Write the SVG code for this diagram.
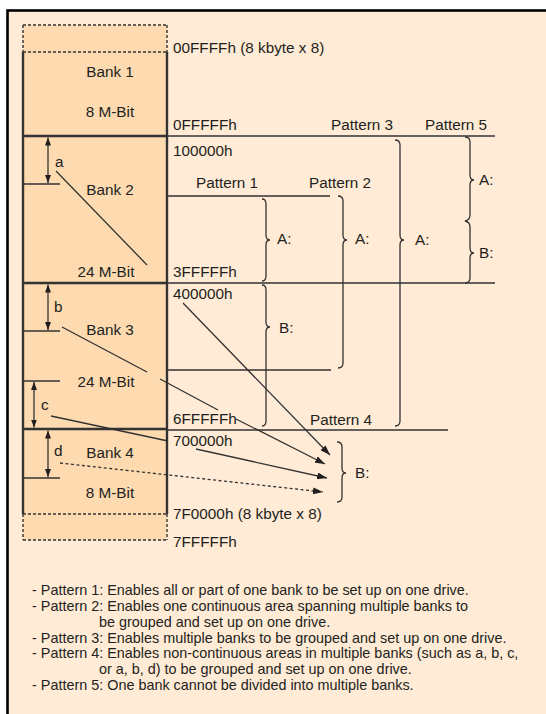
<svg xmlns="http://www.w3.org/2000/svg" width="546" height="714" viewBox="0 0 546 714">
<defs>
<style>
text{font-family:"Liberation Sans",Arial,Helvetica,sans-serif;fill:#231f20}
.lbl{font-size:15.3px}
.ctr{text-anchor:middle}
.note{font-size:14.4px}
.ln{stroke:#333;stroke-width:1.3;fill:none}
.thick{stroke:#333;stroke-width:2.4;fill:none}
.dash{stroke:#333;stroke-width:1.4;fill:none;stroke-dasharray:3 2}
.brace{stroke:#333;stroke-width:1.3;fill:none}
</style>
<marker id="ah" viewBox="0 0 10 7" refX="10" refY="3.5" markerWidth="10" markerHeight="7" markerUnits="userSpaceOnUse" orient="auto">
<path d="M0,0 L10,3.5 L0,7 Z" fill="#231f20"/>
</marker>
<marker id="sh" viewBox="0 0 8 6" refX="8" refY="3" markerWidth="8" markerHeight="6" markerUnits="userSpaceOnUse" orient="auto-start-reverse">
<path d="M0,0 L8,3 L0,6 Z" fill="#231f20"/>
</marker>
</defs>
<rect x="0" y="0" width="546" height="714" fill="#ffffff"/>
<rect x="7.5" y="10.5" width="560" height="720" fill="#ffebd6" stroke="#000" stroke-width="2.6"/>

<g id="banks">
<rect x="23" y="25" width="144" height="515" fill="#fddab0"/>
<path class="dash" d="M23,25 H167 M23,25 V52 M167,25 V52 M23,52 H167 M23,514 H167 M23,514 V540 M167,514 V540 M23,540 H167"/>
<path class="thick" d="M23,52 V514 M167,52 V514 M23,136 H167 M23,283 H167 M23,429 H167"/>
</g>

<g id="bank1">
<text class="lbl ctr" x="110" y="77">Bank 1</text>
<text class="lbl ctr" x="110" y="117">8 M-Bit</text>
</g>
<g id="bank2">
<text class="lbl ctr" x="110" y="195">Bank 2</text>
<text class="lbl ctr" x="106" y="277">24 M-Bit</text>
<text class="lbl" x="55" y="167">a</text>
</g>
<g id="bank3">
<text class="lbl ctr" x="110" y="335">Bank 3</text>
<text class="lbl ctr" x="106" y="387">24 M-Bit</text>
<text class="lbl" x="54" y="312">b</text>
<text class="lbl" x="41" y="410">c</text>
</g>
<g id="bank4">
<text class="lbl ctr" x="110" y="458">Bank 4</text>
<text class="lbl ctr" x="110" y="498">8 M-Bit</text>
<text class="lbl" x="54" y="456">d</text>
</g>

<g id="addresses">
<text class="lbl" x="173" y="53">00FFFFh (8 kbyte x 8)</text>
<text class="lbl" x="173" y="130">0FFFFFh</text>
<text class="lbl" x="173" y="156">100000h</text>
<text class="lbl" x="173" y="277">3FFFFFh</text>
<text class="lbl" x="173" y="299">400000h</text>
<text class="lbl" x="173" y="424">6FFFFFh</text>
<text class="lbl" x="173" y="446">700000h</text>
<text class="lbl" x="173" y="519">7F0000h (8 kbyte x 8)</text>
<text class="lbl" x="173" y="547">7FFFFFh</text>
</g>

<g id="patterns">
<text class="lbl ctr" x="227" y="188">Pattern 1</text>
<text class="lbl ctr" x="340" y="188">Pattern 2</text>
<text class="lbl ctr" x="362" y="130">Pattern 3</text>
<text class="lbl ctr" x="341" y="425">Pattern 4</text>
<text class="lbl ctr" x="456" y="130">Pattern 5</text>
<text class="lbl" x="277" y="244">A:</text>
<text class="lbl" x="279" y="333">B:</text>
<text class="lbl" x="355" y="244">A:</text>
<text class="lbl" x="415" y="245">A:</text>
<text class="lbl" x="479" y="185">A:</text>
<text class="lbl" x="479" y="258">B:</text>
<text class="lbl" x="355" y="478">B:</text>
</g>

<g id="connectors">
<path class="ln" d="M167,136 H495 M167,196 H330 M167,283 H495 M167,370 H331 M167,430 H448"/>
<path class="ln" d="M23,184 H60 M23,331 H60 M23,381 H60 M23,478 H60"/>
<path class="ln" d="M48,137.5 V183" marker-start="url(#sh)" marker-end="url(#sh)"/>
<path class="ln" d="M48,284.5 V330" marker-start="url(#sh)" marker-end="url(#sh)"/>
<path class="ln" d="M34,382 V427.5" marker-start="url(#sh)" marker-end="url(#sh)"/>
<path class="ln" d="M48,430.5 V477" marker-start="url(#sh)" marker-end="url(#sh)"/>
<path class="ln" d="M56,171 L147,265"/>
<path class="ln" d="M183,303 L330,455" marker-end="url(#ah)"/>
<path class="ln" d="M62,327 L147,372 M160,379 L218,410"/>
<path class="ln" d="M236,419 L325,464" marker-end="url(#ah)"/>
<path class="ln" d="M51,416 L168,441"/>
<path class="ln" d="M196,449 L327,478" marker-end="url(#ah)"/>
<path class="ln" d="M60,463 L323,492" stroke-dasharray="3 2.5" marker-end="url(#ah)"/>
<path class="brace" d="M262,199 Q266,199 266,204 L266,235 Q266,240 270,240 Q266,240 266,245 L266,276 Q266,281 262,281"/>
<path class="brace" d="M262,285 Q266,285 266,290 L266,322 Q266,327 270,327 Q266,327 266,332 L266,421 Q266,426 262,426"/>
<path class="brace" d="M338,196 Q343,196 343,201 L343,235 Q343,240 347,240 Q343,240 343,245 L343,363 Q343,368 338,368"/>
<path class="brace" d="M395,140 Q400,140 400,145 L400,235 Q400,240 404,240 Q400,240 400,245 L400,421 Q400,426 395,426"/>
<path class="brace" d="M465,137 Q470,137 470,142 L470,175 Q470,180 474,180 Q470,180 470,185 L470,215 Q470,220 465,221 Q470,222 470,227 L470,248 Q470,253 474,253 Q470,253 470,258 L470,278 Q470,283 465,283"/>
<path class="brace" d="M337,442 Q342,442 342,447 L342,468 Q342,473 346,473 Q342,473 342,478 L342,497 Q342,502 337,502"/>
</g>

<g id="notes">
<text class="note" x="32" y="595">- Pattern 1: Enables all or part of one bank to be set up on one drive.</text>
<text class="note" x="32" y="611">- Pattern 2: Enables one continuous area spanning multiple banks to</text>
<text class="note" x="99" y="626.5">be grouped and set up on one drive.</text>
<text class="note" x="32" y="642.5">- Pattern 3: Enables multiple banks to be grouped and set up on one drive.</text>
<text class="note" x="32" y="658">- Pattern 4: Enables non-continuous areas in multiple banks (such as a, b, c,</text>
<text class="note" x="99" y="674">or a, b, d) to be grouped and set up on one drive.</text>
<text class="note" x="32" y="690">- Pattern 5: One bank cannot be divided into multiple banks.</text>
</g>
</svg>
